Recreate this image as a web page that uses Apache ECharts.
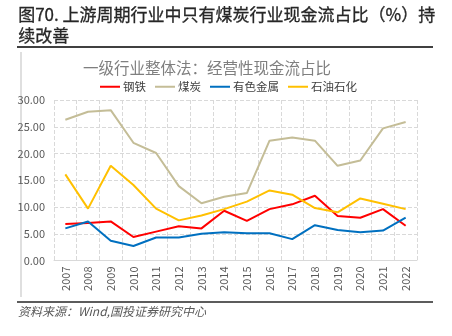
<!DOCTYPE html>
<html><head><meta charset="utf-8">
<script src="https://cdn.jsdelivr.net/npm/echarts@6/dist/echarts.min.js"></script>
<style>html,body{margin:0;padding:0;background:#fff}#c{width:452px;height:336px}</style>
</head><body><div id="c"></div>
<script>
const years = ['2007','2008','2009','2010','2011','2012','2013','2014','2015','2016','2017','2018','2019','2020','2021','2022'];
const steel = [6.8,7.0,7.3,4.4,5.4,6.4,6.0,9.3,7.4,9.6,10.5,12.1,8.3,8.0,9.6,6.5];
const coal = [26.3,27.8,28.1,22.0,20.1,13.9,10.7,11.9,12.6,22.4,23.0,22.4,17.7,18.7,24.7,25.9];
const nonferrous = [6.0,7.3,3.7,2.7,4.3,4.3,5.0,5.3,5.1,5.1,4.0,6.6,5.7,5.3,5.6,8.0];
const petro = [16.1,9.7,17.7,14.1,9.7,7.5,8.4,9.6,11.0,13.1,12.3,9.8,9.0,11.6,10.6,9.6];
const yTicks = {min:0, max:30, interval:5};

const chart = echarts.init(document.getElementById('c'));
const ff = '"Noto Sans CJK SC","Noto Sans",sans-serif';
function s(name, data, color){
  return {name, type:'line', data, symbol:'none', smooth:false,
    lineStyle:{color, width:2}, itemStyle:{color}};
}
chart.setOption({
  animation:false,
  textStyle:{fontFamily:ff},
  title:{text:'一级行业整体法：经营性现金流占比', left:83, top:60, padding:0,
    textStyle:{fontSize:15.5, fontWeight:'normal', color:'#7f7f7f', fontFamily:ff}},
  legend:{top:81, left:100, padding:0, itemWidth:20, itemHeight:2, itemGap:9, icon:'rect',
    textStyle:{fontSize:11.5, color:'#404040', fontFamily:ff, padding:[0,0,0,-2]},
    data:['钢铁','煤炭','有色金属','石油石化']},
  grid:{left:54, right:35, top:100, bottom:75.5, containLabel:false},
  xAxis:{type:'category', data:years, boundaryGap:true,
    axisLine:{lineStyle:{color:'#d9d9d9'}}, axisTick:{show:false},
    axisLabel:{rotate:90, fontSize:11, color:'#595959', margin:6, interval:0},
    splitLine:{show:true, interval:0, lineStyle:{type:'dashed', color:'#d9d9d9'}}},
  yAxis:{type:'value', min:yTicks.min, max:yTicks.max, interval:yTicks.interval,
    axisLine:{show:false}, axisTick:{show:false},
    axisLabel:{fontSize:11, color:'#595959', margin:9, formatter:v=>v.toFixed(2)},
    splitLine:{lineStyle:{type:'dashed', color:'#d9d9d9'}}},
  series:[s('钢铁',steel,'#FF0000'), s('煤炭',coal,'#C4BD97'), s('有色金属',nonferrous,'#0070C0'), s('石油石化',petro,'#FFC000')],
  graphic:[
    {type:'text', left:18, top:4, style:{text:'图70. 上游周期行业中只有煤炭行业现金流占比（%）持\n续改善', fontSize:17, lineHeight:21, fontWeight:'normal', fill:'#262626', fontFamily:ff, stroke:'#262626', lineWidth:0.3}},
    {type:'line', shape:{x1:17,y1:47,x2:433,y2:47}, style:{stroke:'#404040', lineWidth:2}},
    {type:'line', shape:{x1:21,y1:52,x2:21,y2:297}, style:{stroke:'#bfbfbf', lineWidth:1}},
    {type:'line', shape:{x1:17,y1:302,x2:433,y2:302}, style:{stroke:'#262626', lineWidth:1.5}},
    {type:'text', left:18, top:305, style:{text:'资料来源：Wind,国投证券研究中心', fontSize:12, fontStyle:'italic', fill:'#595959', fontFamily:ff}}
  ]
});
</script></body></html>
